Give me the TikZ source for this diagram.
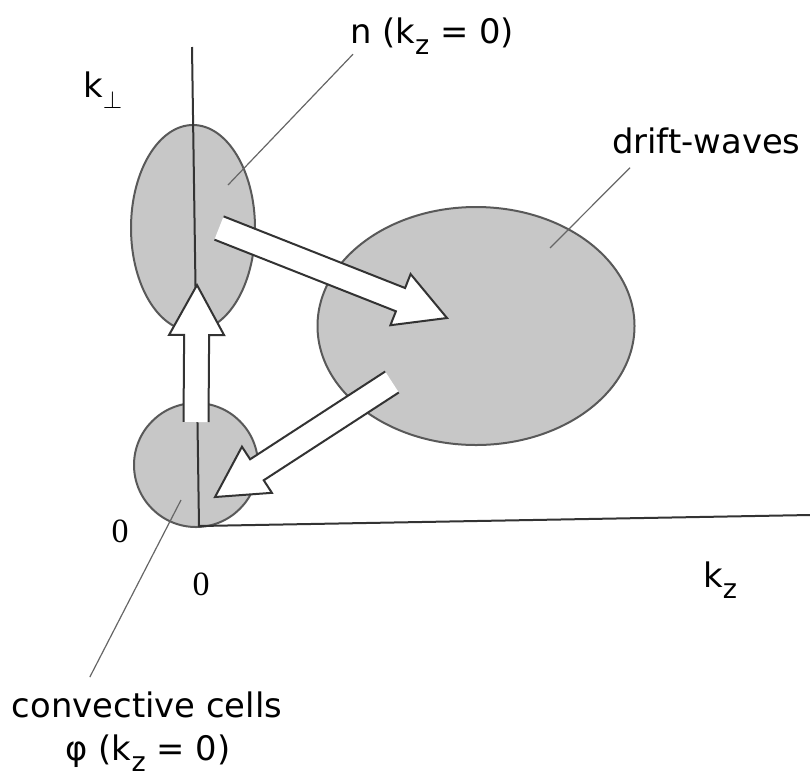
\documentclass[tikz,border=0pt]{standalone}
\usepackage{fontspec}
\newfontfamily\figfont{DejaVu Sans}
\newfontfamily\numfont{Liberation Serif}
\usetikzlibrary{calc,shapes.geometric}

% lowered subscript as printed in the figure
\newcommand{\lo}[1]{\raisebox{-11pt}{\fontsize{27}{27}\selectfont #1}}

\tikzset{
  blob/.style={draw=black!65, fill=black!22, line width=2pt, inner sep=0pt},
  axis/.style={draw=black!80, line width=2pt},
  flow/.style={draw=black!80, fill=white, line width=2pt, line join=miter},
  leader/.style={draw=black!60, line width=1.2pt},
  lbl/.style={font=\figfont\fontsize{33.8}{43}\selectfont, inner sep=0pt},
  num/.style={font=\numfont\fontsize{34}{38}\selectfont, inner sep=0pt}
}

% broad arrow from #1 to tip #2, tail left open
\newcommand{\fatarrow}[2]{%
  \coordinate (fh) at ($(#2)!50pt!(#1)$);
  \filldraw[flow] ($(#1)!12.5pt!90:(#2)$) -- ($(fh)!12.5pt!-90:(#1)$)
    -- ($(fh)!27.5pt!-90:(#1)$) -- (#2) -- ($(fh)!27.5pt!90:(#1)$)
    -- ($(fh)!12.5pt!90:(#1)$) -- ($(#1)!12.5pt!-90:(#2)$);
}

\begin{document}
\begin{tikzpicture}[x=1pt,y=-1pt]
\useasboundingbox (0,0) rectangle (810,780);

% spectral regions
\node[blob, ellipse, minimum width=124pt, minimum height=206pt] (nblob) at (193,228) {};
\node[blob, ellipse, minimum width=317pt, minimum height=238pt] (dwblob) at (476,326) {};
\node[blob, circle, minimum size=124pt] (ccblob) at (196,465) {};

% axes
\coordinate (o) at (199,526);
\coordinate (kperp) at (192,47);
\coordinate (kzend) at (810,515);
\draw[axis] (kperp) -- (o) -- (kzend);

% transfer arrows
\coordinate (upS) at (196,422);
\coordinate (upT) at (197,285);
\coordinate (rS) at (219,228);
\coordinate (rT) at (447,318);
\coordinate (dS) at (392,382);
\coordinate (dT) at (215,497);
\fatarrow{upS}{upT}
\fatarrow{rS}{rT}
\fatarrow{dS}{dT}

% labels
\node[lbl, anchor=base west] (nlab) at (350,43) {n (k\lo{z} = 0)};
\node[lbl, anchor=base west] (kplab) at (83,97) {k\lo{$\perp$}};
\node[lbl, anchor=base west] (dwlab) at (612,153) {drift-waves};
\node[lbl, anchor=base west] (kzlab) at (703,587) {k\lo{z}};
\node[lbl, anchor=base] (cclab) at (147,717) {convective cells};
\node[lbl, anchor=base] (philab) at (148,760) {φ (k\lo{z} = 0)};
\node[num, anchor=base] (zl) at (120,542) {0};
\node[num, anchor=base] (zb) at (201,595) {0};

% leaders
\coordinate (nin) at (228,185);
\coordinate (dwin) at (550,248);
\coordinate (ccin) at (181,500);
\draw[leader] ([xshift=3pt]nlab.south west) -- (nin);
\draw[leader] ([xshift=18pt,yshift=-14pt]dwlab.south west) -- (dwin);
\draw[leader] ([xshift=78pt,yshift=14pt]cclab.north west) -- (ccin);
\end{tikzpicture}
\end{document}
